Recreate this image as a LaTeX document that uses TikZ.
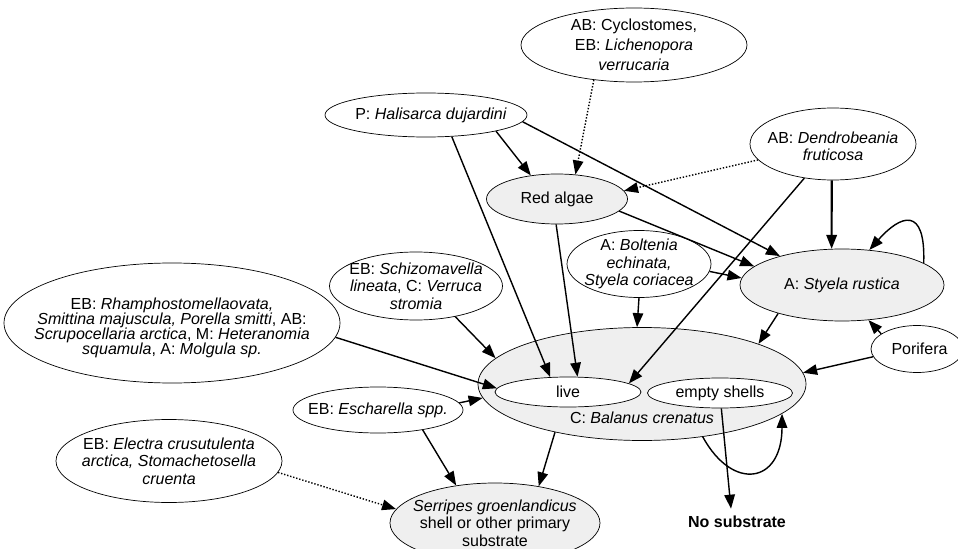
\documentclass[tikz,border=0pt]{standalone}
\usepackage{fontspec}
\setmainfont{Liberation Sans}
\usetikzlibrary{shapes.geometric,arrows.meta}
\definecolor{shellgray}{RGB}{239,239,239}

\begin{document}
\begin{tikzpicture}[
  font=\fontsize{9.1}{9.9}\selectfont,
  spec/.style={ellipse,draw,thin,inner sep=0pt},
  host/.style={spec,fill=shellgray},
  txt/.style={align=center,inner sep=0pt},
  link/.style={-{Triangle[length=8pt,width=6pt]},line width=0.8pt},
  weak/.style={link,densely dotted}]
  \useasboundingbox (0,0) rectangle (19.16,10.96);
  %\node at (9.5,5.5) {substrate web};
  \node[spec,minimum width=4.52cm,minimum height=1.48cm,
    label={[txt,font=\fontsize{9.1}{11.3}\selectfont]center:{AB: Cyclostomes,\\EB: \textit{Lichenopora}\\\textit{verrucaria}}}] (cyclo) at (12.68,10.06) {};
  \node[spec,minimum width=4.04cm,minimum height=0.88cm,
    label={[txt,xshift=0.1cm]center:{P: \textit{Halisarca dujardini}}}] (halis) at (8.52,8.66) {};
  \node[spec,minimum width=3.32cm,minimum height=1.44cm,
    label={[txt,yshift=-0.05cm]center:{AB: \textit{Dendrobeania}\\\textit{fruticosa}}}] (dendro) at (16.66,8.08) {};
  \node[host,minimum width=2.82cm,minimum height=1.00cm,
    label={[txt]center:{Red algae}}] (red) at (11.14,6.98) {};
  \node[spec,minimum width=2.88cm,minimum height=1.34cm,
    label={[txt]center:{A: \textit{Boltenia}\\\textit{echinata,}\\\textit{Styela coriacea}}}] (bolt) at (12.78,5.68) {};
  \node[host,minimum width=4.08cm,minimum height=1.44cm,
    label={[txt]center:{A: \textit{Styela rustica}}}] (styela) at (16.84,5.26) {};
  \node[spec,minimum width=3.46cm,minimum height=1.36cm,
    label={[txt]center:{EB: \textit{Schizomavella}\\\textit{lineata}, C: \textit{Verruca}\\\textit{stromia}}}] (schiz) at (8.32,5.24) {};
  \node[spec,minimum width=6.72cm,minimum height=2.40cm,
    label={[txt,yshift=-0.1cm,font=\fontsize{9.1}{8.6}\selectfont]center:{EB: \textit{Rhamphostomellaovata,}\\\textit{Smittina majuscula, Porella smitti}, AB:\\\textit{Scrupocellaria arctica}, M: \textit{Heteranomia}\\\textit{squamula}, A: \textit{Molgula sp.}}}] (rham) at (3.44,4.50) {};
  \node[host,minimum width=6.56cm,minimum height=2.26cm,
    label={[txt,yshift=-0.68cm]center:{C: \textit{Balanus crenatus}}}] (balanus) at (12.84,3.28) {};
  \node[spec,fill=white,minimum width=2.92cm,minimum height=0.60cm,
    label={[txt]center:{live}}] (live) at (11.36,3.12) {};
  \node[spec,fill=white,minimum width=2.90cm,minimum height=0.60cm,
    label={[txt]center:{empty shells}}] (empty) at (14.40,3.10) {};
  \node[spec,minimum width=1.84cm,minimum height=0.94cm,
    label={[txt,xshift=0.05cm]center:{Porifera}}] (porifera) at (18.34,3.98) {};
  \node[spec,minimum width=3.40cm,minimum height=0.92cm,
    label={[txt]center:{EB: \textit{Escharella spp.}}}] (eschar) at (7.56,2.76) {};
  \node[spec,minimum width=4.52cm,minimum height=1.66cm,
    label={[txt]center:{EB: \textit{Electra crusutulenta}\\\textit{arctica, Stomachetosella}\\\textit{cruenta}}}] (electra) at (3.38,1.74) {};
  \node[host,minimum width=4.20cm,minimum height=1.60cm,
    label={[txt]center:{\textit{Serripes groenlandicus}\\shell or other primary\\substrate}}] (serripes) at (9.90,0.50) {};
  \node[inner sep=4pt,font=\fontsize{9.1}{9.9}\selectfont\bfseries] (nosub) at (14.74,0.52) {No substrate};

  % links between substrates
  \draw[weak] (cyclo.-139) -- (red.53);
  \draw[link] (halis.-13) -- (red.138);
  \draw[link] (halis.-40) -- (live.140);
  \draw[link] (halis.-4) -- (styela.155);
  \draw[weak] (dendro.192) -- (red.7);
  \draw[link] (dendro.-130) -- (live.8);
  \draw[link,line width=1.2pt] (dendro.-92) -- (styela.106);
  \draw[link] (red.-11) -- (styela.168);
  \draw[link] (red.-92) -- (live.58);
  \draw[link] (bolt.-6) -- (styela.176);
  \draw[link] (bolt.-90) -- (balanus.95);
  \draw[link] (styela.-156) -- (balanus.19);
  \draw[link] (styela.15) .. controls +(0.04,1.16) and +(0.62,0.7) .. (styela.52);
  \draw[link] (porifera.157) -- (styela.-53);
  \draw[link] (porifera.190) -- (balanus.4);
  \draw[link] (schiz.-38) -- (balanus.170);
  \draw[link] (rham.-5) -- (live.177);
  \draw[link] (eschar.5) -- (balanus.185);
  \draw[link] (eschar.-24) -- (serripes.136);
  \draw[link] (balanus.-151) -- (serripes.40);
  \draw[weak] (electra.-6) -- (serripes.172);
  \draw[link] (empty.-85) -- ([xshift=-0.12cm]nosub.north);
  \draw[link] (balanus.-41) .. controls +(0.6,-1.1) and +(0,-1.4) .. (balanus.-12);
\end{tikzpicture}
\end{document}
